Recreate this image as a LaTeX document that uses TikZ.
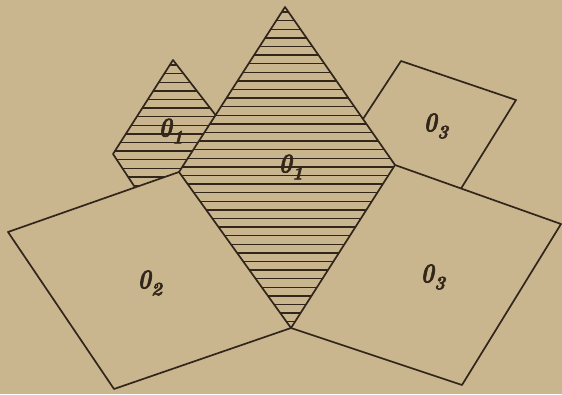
\documentclass[tikz,border=0pt]{standalone}
\usepackage{fontspec}
\usetikzlibrary{calc}
\newfontfamily\labfont{Latin Modern Roman}[FakeBold=2.5]
\definecolor{bg}{RGB}{201,182,143}
\definecolor{ink}{RGB}{50,38,26}
\newcommand\olab[1]{{\labfont\bfseries\itshape\scalebox{0.82}[1]{\fontsize{27}{27}\selectfont 0}\raisebox{-7pt}{\fontsize{19}{19}\selectfont #1}}}
\begin{document}
\begin{tikzpicture}[x=1pt,y=-1pt,line join=round,
  edge/.style={draw=ink,line width=1.7pt},
  hatchline/.style={draw=ink,line width=1.4pt},
  lab/.style={text=ink,inner sep=0pt}]
\fill[bg] (0,0) rectangle (562,394);
\useasboundingbox (0,0) rectangle (562,394);
% big rhombus
\coordinate (T) at (285,7);
\coordinate (R) at (395,165);
\coordinate (B) at (291,328);
\coordinate (L) at (179,172);
% small rhombus
\coordinate (t) at (173,60);
\coordinate (l) at (113,154);
\coordinate (m) at ($(T)!0.655!(L)$);
% square O2
\coordinate (q2l) at (8,232);
\coordinate (q2b) at (114,389);
\coordinate (b) at ($(L)!0.257!(q2l)$);
% square O3
\coordinate (q3r) at (561,224);
\coordinate (q3b) at (462,385);
% small square O3
\coordinate (s1) at (401,61);
\coordinate (s2) at (516,100);
\coordinate (s3) at ($(R)!0.398!(q3r)$);
\coordinate (s4) at ($(T)!0.709!(R)$);
% hatching big rhombus
\begin{scope}
\clip (T) -- (R) -- (B) -- (L) -- cycle;
\foreach \y in {12,20.6,...,328} \draw[hatchline] (170,\y) -- (400,\y);
\end{scope}
% hatching small rhombus
\begin{scope}
\clip (t) -- (m) -- (L) -- (b) -- (l) -- cycle;
\foreach \y in {65,73.6,...,190} \draw[hatchline] (105,\y) -- (220,\y);
\end{scope}
% outlines
\draw[edge] (T) -- (R) -- (B) -- (L) -- cycle;
\draw[edge] (m) -- (t) -- (l) -- (b);
\draw[edge] (L) -- (q2l) -- (q2b) -- (B);
\draw[edge] (R) -- (q3r) -- (q3b) -- (B);
\draw[edge] (s4) -- (s1) -- (s2) -- (s3);
% labels
\node[lab] (o1s) at (171,131) {\olab{1}};
\node[lab] (o1b) at (291,167) {\olab{1}};
\node[lab] (o2) at (150,283) {\olab{2}};
\node[lab] (o3b) at (433,277) {\olab{3}};
\node[lab] (o3s) at (436,126) {\olab{3}};
\end{tikzpicture}
\end{document}
